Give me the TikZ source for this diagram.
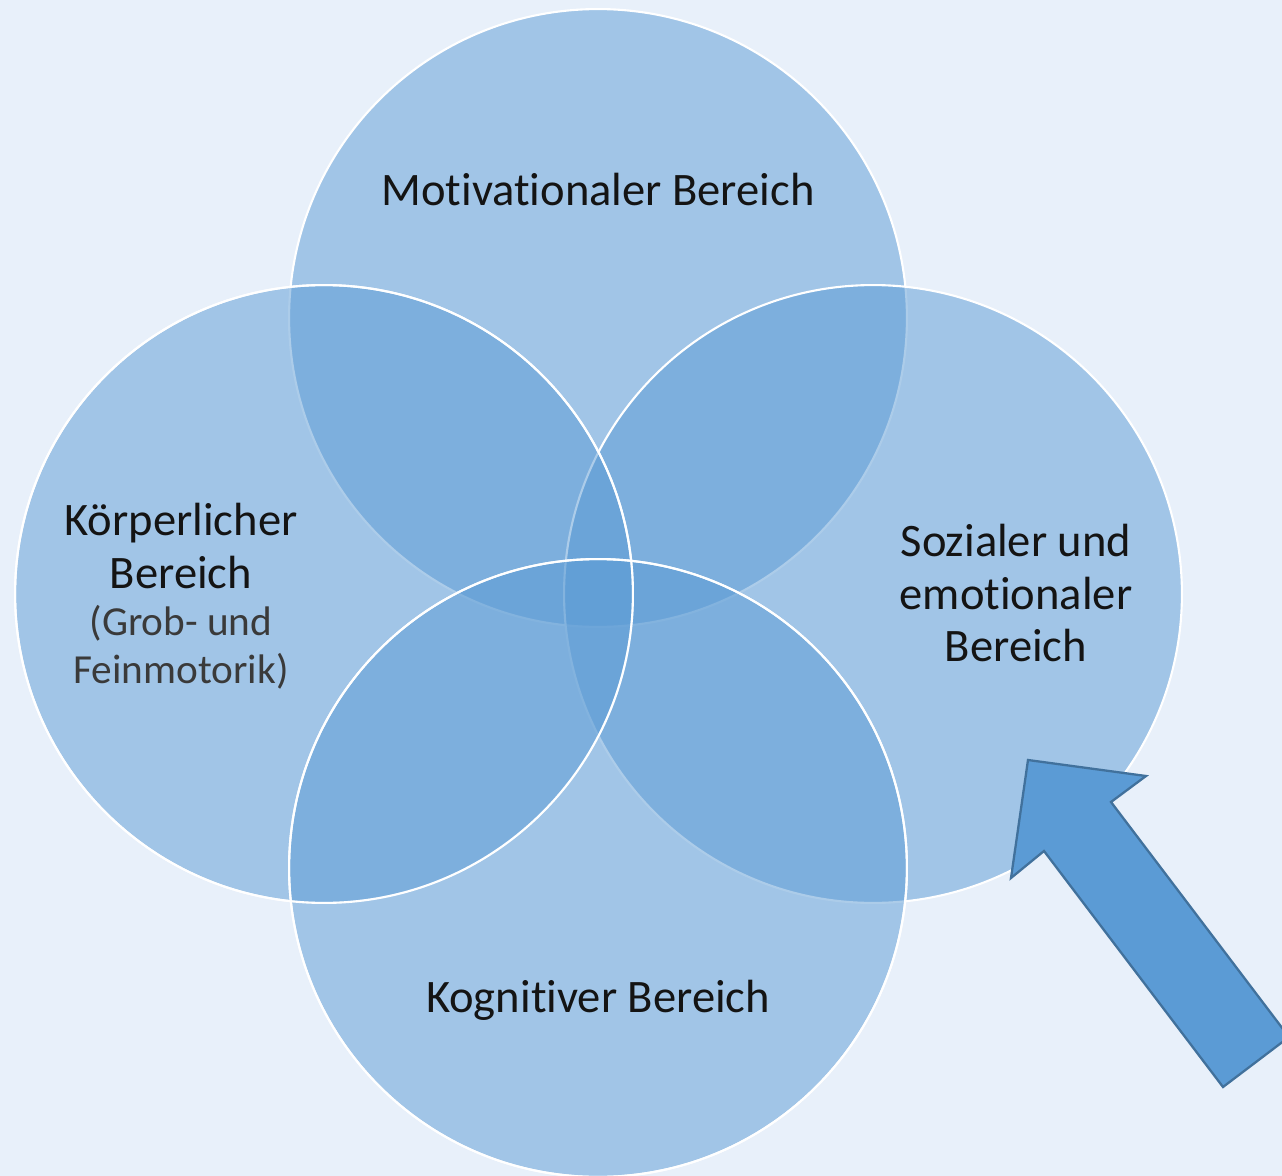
\documentclass[tikz,border=0pt]{standalone}
\usepackage{fontspec}
\setmainfont{Carlito}[Ligatures={NoCommon}]
\definecolor{bgcol}{HTML}{E8F0FA}
\definecolor{circfill}{HTML}{5B9BD5}
\definecolor{arrowline}{HTML}{41719C}
\definecolor{subgray}{HTML}{3A3A3A}
\begin{document}
\begin{tikzpicture}[x=0.02cm,y=-0.02cm,
  bubble/.style={circle, minimum size=12.36cm, inner sep=0pt, fill=circfill, fill opacity=0.5, draw=white, line width=1.2pt},
  outline/.style={draw=white, line width=1.2pt},
  lbl/.style={text=black!92, font=\fontsize{26.5}{30}\selectfont, align=center, inner sep=0pt},
  blockarrow/.style={fill=circfill, draw=arrowline, line width=1.3pt, line join=miter}
]
\fill[bgcol] (0,0) rectangle (1282,1176);
\useasboundingbox (0,0) rectangle (1282,1176);
% circles
\node[bubble] (top)    at (598,318) {};
\node[bubble] (right)  at (873,594) {};
\node[bubble] (left)   at (324,594) {};
\node[bubble] (bottom) at (598,868) {};
\draw[outline] (left.center) circle[radius=6.18cm];
\draw[outline] (bottom.center) circle[radius=6.18cm];
% labels
\node[lbl, anchor=base] (tmot) at (598,205) {Motivationaler Bereich};
\node[lbl, anchor=base] (tkog) at (598,1012) {Kognitiver Bereich};
\node[lbl] (tsoz) at (1016,593) {Sozialer und\\emotionaler\\Bereich};
\node[lbl] (tkoe) at (181,596) {Körperlicher\\Bereich\\[-3pt]{\fontsize{23.5}{26.6}\selectfont\color{subgray}(Grob- und}\\[-3pt]{\fontsize{23.5}{26.6}\selectfont\color{subgray}Feinmotorik)}};
% arrow
\coordinate (tip) at (1028,760);
\coordinate (rbarb) at (1146,776);
\coordinate (rnotch) at (1111,802);
\coordinate (rend) at (1289,1037);
\coordinate (lend) at (1223,1087);
\coordinate (lnotch) at (1044,851);
\coordinate (lbarb) at (1011,878);
\draw[blockarrow] (tip) -- (rbarb) -- (rnotch) -- (rend) -- (lend) -- (lnotch) -- (lbarb) -- cycle;
\end{tikzpicture}
\end{document}
